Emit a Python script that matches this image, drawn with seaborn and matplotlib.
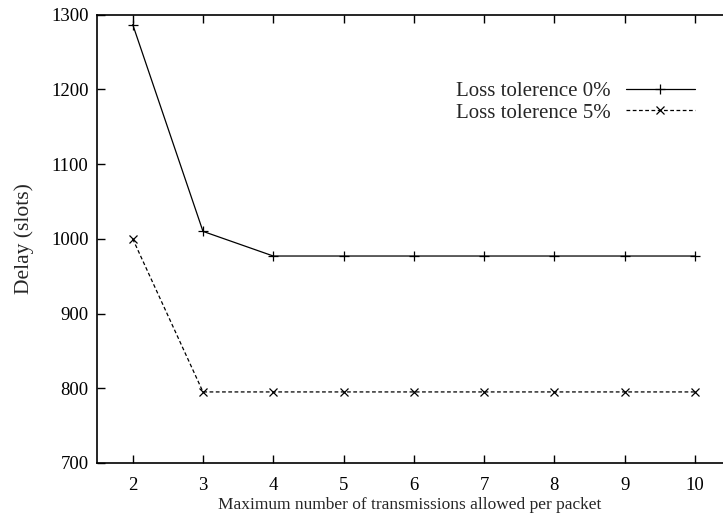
import numpy as np
import pandas as pd
import seaborn as sea
import matplotlib.pyplot as plt

sea.set_style("ticks")
plt.rcParams["font.family"] = ["Liberation Serif", "DejaVu Serif"]

max_tx = [2, 3, 4, 5, 6, 7, 8, 9, 10]
delay_0 = [1287, 1010, 977, 977, 977, 977, 977, 977, 977]
delay_5 = [1000, 795, 795, 795, 795, 795, 795, 795, 795]
series_names = ["Loss tolerence 0%", "Loss tolerence 5%"]

df = pd.DataFrame({
    "tx": max_tx * 2,
    "delay": delay_0 + delay_5,
    "series": [series_names[0]] * len(max_tx) + [series_names[1]] * len(max_tx),
})

STYLES = {
    series_names[0]: dict(marker="+", linestyle="-", markersize=7),
    series_names[1]: dict(marker="x", linestyle=(0, (3, 2)), markersize=5.5),
}

fig = plt.figure(figsize=(7.23, 5.29), dpi=100)
ax = fig.add_axes([0.134, 0.125, 0.866, 0.847])

for name, sdf in df.groupby("series"):
    sea.lineplot(data=sdf, x="tx", y="delay", label=name,
        color="black", linewidth=0.9,
        markeredgewidth=0.9, markeredgecolor="black", markerfacecolor="none",
        ax=ax, **STYLES[name])

ax.set_xlim(1.49, 10.4)
ax.set_ylim(700, 1300)
ax.xaxis.set(major_locator=plt.MultipleLocator(1))
ax.yaxis.set(major_locator=plt.MultipleLocator(100))
ax.tick_params(direction="in", length=6, width=1, top=True, right=False,
    labelsize=13.5, pad=10, colors="black")
ax.tick_params(axis="y", pad=6)
for side in ["left", "bottom", "top"]:
    ax.spines[side].set_linewidth(1.2)
    ax.spines[side].set_color("black")
ax.spines["right"].set_visible(False)

ax.set_xlabel("Maximum number of transmissions allowed per packet", fontsize=12.5, labelpad=2)
ax.set_ylabel("Delay (slots)", fontsize=15.5, labelpad=12)

ax.legend(loc="upper right", bbox_to_anchor=(0.985, 0.893), frameon=False,
    markerfirst=False, fontsize=15, handlelength=3.3, handletextpad=0.75,
    labelspacing=0.1)

plt.savefig("out.png", dpi=100)
plt.close()
